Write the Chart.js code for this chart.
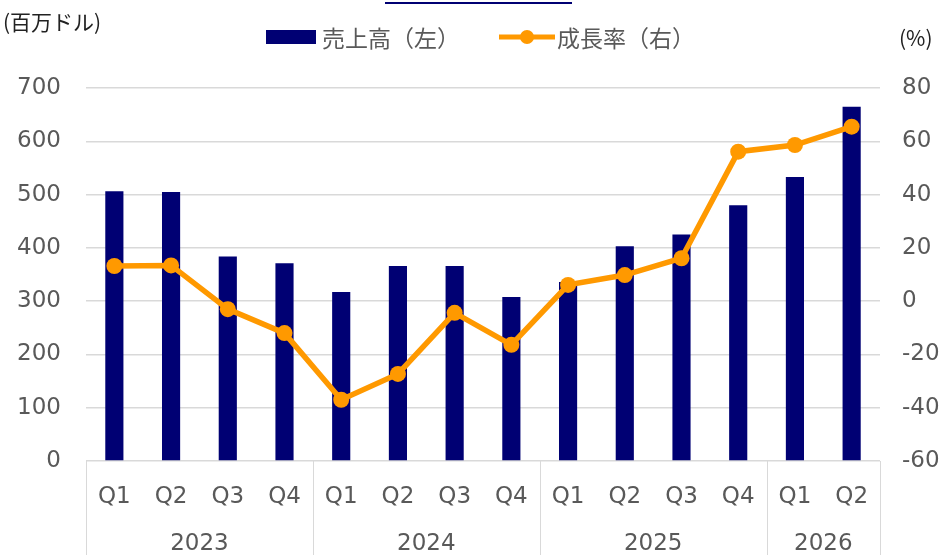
<!DOCTYPE html>
<html lang="ja">
<head>
<meta charset="utf-8">
<title>売上高と成長率</title>
<script src="https://cdn.jsdelivr.net/npm/chart.js@4.4.1/dist/chart.umd.min.js"></script>
<style>
  html, body { margin: 0; padding: 0; background: #fff; }
  #wrap { width: 939px; height: 555px; position: relative; }
</style>
</head>
<body>
<div id="wrap"><canvas id="salesChart"></canvas></div>
<script>
// data
const quarters = ["Q1", "Q2", "Q3", "Q4", "Q1", "Q2", "Q3", "Q4", "Q1", "Q2", "Q3", "Q4", "Q1", "Q2"];
const years = ["2023", "2024", "2025", "2026"];
const yearSpans = [4, 4, 4, 2];
const sales = [506, 505, 384, 371, 317, 366, 366, 308, 336, 403, 425, 480, 533, 665];
const growth = [13.2, 13.4, -3, -12, -37, -27.3, -4.4, -16.4, 6.1, 9.8, 16.1, 56.1, 58.6, 65.5];
const seriesNames = ["売上高（左）", "成長率（右）"];

const navy = "#000073";
const orange = "#ff9900";
const gridGray = "#d9d9d9";
const textGray = "#595959";
const numFont = "'DejaVu Sans', Verdana, sans-serif";
const jpFont = "'Noto Sans CJK JP', sans-serif";

// year row, group separators, unit labels and legend
const extras = {
  id: "extras",
  afterDraw(chart) {
    const ctx = chart.ctx;
    const x = chart.scales.x;
    const area = chart.chartArea;
    ctx.save();

    // separators below the plot
    ctx.strokeStyle = gridGray;
    ctx.lineWidth = 1;
    let start = 0;
    const bounds = [0];
    yearSpans.forEach(n => { start += n; bounds.push(start); });
    bounds.forEach(b => {
      const px = Math.round(x.getPixelForValue(b - 0.5)) + 0.5;
      ctx.beginPath();
      ctx.moveTo(px, area.bottom);
      ctx.lineTo(px, chart.height);
      ctx.stroke();
    });

    // year labels
    ctx.fillStyle = textGray;
    ctx.font = "23px " + numFont;
    ctx.textAlign = "center";
    ctx.textBaseline = "middle";
    start = 0;
    years.forEach((y, i) => {
      const mid = start + (yearSpans[i] - 1) / 2;
      ctx.fillText(y, x.getPixelForValue(mid), 544);
      start += yearSpans[i];
    });

    // units
    ctx.fillStyle = "#222";
    ctx.font = "21px " + jpFont;
    ctx.textAlign = "left";
    ctx.fillText("(百万ドル)", 3, 22);
    ctx.fillText("(%)", 899, 38);

    // cropped title underline
    ctx.strokeStyle = navy;
    ctx.lineWidth = 2;
    ctx.beginPath();
    ctx.moveTo(385, 3);
    ctx.lineTo(572, 3);
    ctx.stroke();

    // legend
    ctx.fillStyle = navy;
    ctx.fillRect(266, 30, 50, 14);
    ctx.fillStyle = textGray;
    ctx.font = "23px " + jpFont;
    ctx.fillText(seriesNames[0], 322, 38);

    ctx.strokeStyle = orange;
    ctx.lineWidth = 5;
    ctx.beginPath();
    ctx.moveTo(499, 37);
    ctx.lineTo(555, 37);
    ctx.stroke();
    ctx.fillStyle = orange;
    ctx.beginPath();
    ctx.arc(527, 37, 7, 0, Math.PI * 2);
    ctx.fill();
    ctx.fillStyle = textGray;
    ctx.fillText(seriesNames[1], 557, 38);

    ctx.restore();
  }
};

new Chart(document.getElementById("salesChart"), {
  type: "bar",
  data: {
    labels: quarters,
    datasets: [
      {
        type: "line",
        label: seriesNames[1],
        data: growth,
        yAxisID: "y1",
        borderColor: orange,
        backgroundColor: orange,
        borderWidth: 5.5,
        pointRadius: 8,
        pointBorderWidth: 0,
        pointBackgroundColor: orange,
        tension: 0,
        order: 0
      },
      {
        type: "bar",
        label: seriesNames[0],
        data: sales,
        yAxisID: "y",
        backgroundColor: navy,
        categoryPercentage: 1,
        barPercentage: 0.32,
        order: 1
      }
    ]
  },
  options: {
    responsive: true,
    maintainAspectRatio: false,
    animation: false,
    layout: { padding: { top: 88, left: 0, right: 0, bottom: 0 } },
    plugins: {
      legend: { display: false },
      tooltip: { enabled: false }
    },
    scales: {
      x: {
        offset: true,
        grid: { display: false, drawTicks: false },
        border: { display: false },
        ticks: {
          color: textGray,
          font: { family: numFont, size: 23 },
          padding: 22,
          maxRotation: 0,
          autoSkip: false
        },
        afterFit(scale) { scale.height = 94; }
      },
      y: {
        position: "left",
        min: 0,
        max: 700,
        ticks: {
          stepSize: 100,
          color: textGray,
          font: { family: numFont, size: 23 },
          padding: 25
        },
        grid: { color: gridGray, lineWidth: 1.5, drawTicks: false },
        border: { display: false },
        afterFit(scale) { scale.width = 86; }
      },
      y1: {
        position: "right",
        min: -60,
        max: 80,
        ticks: {
          stepSize: 20,
          color: textGray,
          font: { family: numFont, size: 23 },
          padding: 22
        },
        grid: { drawOnChartArea: false, drawTicks: false },
        border: { display: false },
        afterFit(scale) { scale.width = 59; }
      }
    }
  },
  plugins: [extras]
});
</script>
</body>
</html>
